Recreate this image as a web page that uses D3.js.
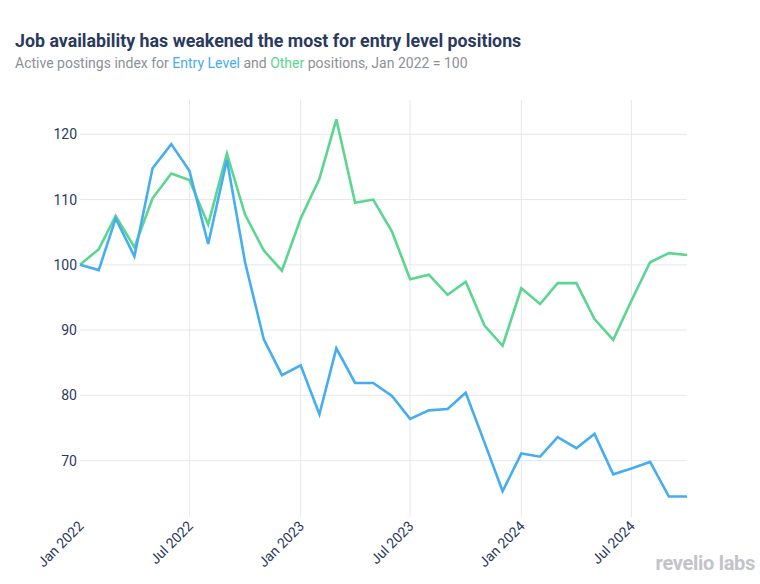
<!DOCTYPE html>
<html>
<head>
<meta charset="utf-8">
<script src="https://cdn.jsdelivr.net/npm/d3@7"></script>
<style>
  html, body { margin: 0; padding: 0; background: #fff; }
  svg { display: block; font-family: Roboto, "Noto Sans", sans-serif; }
</style>
</head>
<body>
<svg id="chart" width="760" height="584"></svg>
<script>
// ---- data ----
const months = [
  "2022-01","2022-02","2022-03","2022-04","2022-05","2022-06","2022-07","2022-08","2022-09","2022-10","2022-11","2022-12",
  "2023-01","2023-02","2023-03","2023-04","2023-05","2023-06","2023-07","2023-08","2023-09","2023-10","2023-11","2023-12",
  "2024-01","2024-02","2024-03","2024-04","2024-05","2024-06","2024-07","2024-08","2024-09","2024-10"
];
const entryLevel = [
  100, 99.2, 107.1, 101.3, 114.8, 118.5, 114.4, 103.2, 116.1, 100.4, 88.6, 83.1,
  84.6, 77.1, 87.2, 81.9, 81.9, 79.9, 76.4, 77.7, 77.9, 80.4, 72.8, 65.3,
  71.1, 70.6, 73.6, 71.9, 74.1, 67.9, 68.8, 69.8, 64.5, 64.5
];
const other = [
  100, 102.4, 107.5, 102.7, 110.2, 114.0, 113.0, 106.2, 117.0, 107.7, 102.2, 99.1,
  107.1, 113.2, 122.3, 109.5, 110.0, 105.1, 97.8, 98.5, 95.4, 97.4, 90.7, 87.6,
  96.4, 94.0, 97.2, 97.2, 91.7, 88.5, 94.5, 100.4, 101.8, 101.5
];
const yTicks = [70, 80, 90, 100, 110, 120];
const xTickLabels = ["Jan 2022","Jul 2022","Jan 2023","Jul 2023","Jan 2024","Jul 2024"];
const xTickDates = ["2022-01","2022-07","2023-01","2023-07","2024-01","2024-07"];

const titleText = "Job availability has weakened the most for entry level positions";
const colors = { entry: "#45adf0", other: "#5ad68f", navy: "#2a3a5e", gray: "#8c9097", grid: "#e7e7ec" };

// ---- layout ----
const svg = d3.select("#chart");
const parse = d3.timeParse("%Y-%m");
const plotL = 80, plotR = 687, plotT = 100, plotB = 517;

const x = d3.scaleTime()
  .domain([parse("2022-01"), parse("2024-10")])
  .range([plotL, plotR]);
const y = d3.scaleLinear()
  .domain([61.36, 125.26])
  .range([plotB, plotT]);

// title
svg.append("text")
  .attr("x", 15).attr("y", 47)
  .attr("font-size", 17.8).attr("font-weight", 700)
  .attr("fill", colors.navy)
  .text(titleText);

const sub = svg.append("text")
  .attr("x", 15).attr("y", 68)
  .attr("font-size", 14).attr("fill", colors.gray);
sub.append("tspan").text("Active postings index for ");
sub.append("tspan").attr("fill", colors.entry).text("Entry Level");
sub.append("tspan").text(" and ");
sub.append("tspan").attr("fill", colors.other).text("Other");
sub.append("tspan").text(" positions, Jan 2022 = 100");

// horizontal grid + y axis
svg.append("g").selectAll("line").data(yTicks).join("line")
  .attr("x1", plotL).attr("x2", plotR)
  .attr("y1", d => y(d)).attr("y2", d => y(d))
  .attr("stroke", colors.grid).attr("stroke-width", 1);
const yAxis = d3.axisLeft(y).tickValues(yTicks).tickSize(0).tickPadding(3);
const gy = svg.append("g").attr("transform", `translate(${plotL},0)`).call(yAxis);
gy.select(".domain").remove();
gy.selectAll("text").attr("font-size", 14).attr("fill", colors.navy).attr("font-family", "Roboto");

// vertical grid (not at the first tick)
const xDates = xTickDates.map(parse);
svg.append("g").selectAll("line").data(xDates.slice(1)).join("line")
  .attr("x1", d => x(d)).attr("x2", d => x(d))
  .attr("y1", plotT).attr("y2", plotB)
  .attr("stroke", colors.grid).attr("stroke-width", 1);

// x axis labels
const xAxis = d3.axisBottom(x).tickValues(xDates).tickSize(0).tickPadding(0)
  .tickFormat((d, i) => xTickLabels[i]);
const gx = svg.append("g").attr("transform", `translate(0,${plotB})`).call(xAxis);
gx.select(".domain").remove();
gx.selectAll("text")
  .attr("font-size", 14).attr("fill", colors.navy).attr("font-family", "Roboto")
  .attr("text-anchor", "end")
  .attr("dy", 0)
  .attr("transform", "translate(4,10) rotate(-45)");

// lines
const line = d3.line().x((d, i) => x(parse(months[i]))).y(d => y(d));
svg.append("path").datum(other)
  .attr("fill", "none").attr("stroke", colors.other).attr("stroke-width", 2.6)
  .attr("stroke-linejoin", "miter").attr("d", line);
svg.append("path").datum(entryLevel)
  .attr("fill", "none").attr("stroke", colors.entry).attr("stroke-width", 2.6)
  .attr("stroke-linejoin", "miter").attr("d", line);

// logo
svg.append("text")
  .attr("x", 755).attr("y", 570).attr("text-anchor", "end")
  .attr("font-size", 20).attr("font-weight", 700).attr("fill", "#c3c4c8")
  .attr("letter-spacing", -0.3)
  .text("revelio labs");
</script>
</body>
</html>
